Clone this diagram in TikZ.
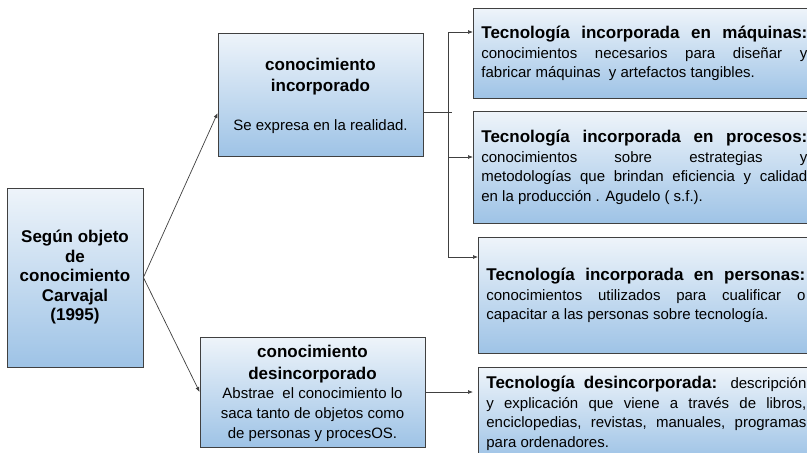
\documentclass[tikz,border=0pt]{standalone}
\usepackage{fontspec}
\setmainfont{Liberation Sans}
\usetikzlibrary{arrows.meta}
\definecolor{boxtop}{RGB}{238,244,250}
\definecolor{boxbot}{RGB}{158,195,230}
\definecolor{edge}{RGB}{64,64,64}
\begin{document}
\begin{tikzpicture}[x=1pt,y=-1pt,
  box/.style={draw=edge,line width=0.8pt,top color=boxtop,bottom color=boxbot,inner sep=0pt},
  techbox/.style={box,anchor=north west,minimum height=#1,text width=326pt,inner xsep=8pt,align=justify,txt},
  ttl/.style={font=\fontsize{17}{21}\selectfont\bfseries},
  txt/.style={font=\fontsize{15}{19.5}\selectfont},
  line/.style={draw=edge,line width=0.7pt},
  arr/.style={line,-{Latex[length=5pt,width=4pt]}}]
\useasboundingbox (0,0) rectangle (807,453);
\fill[white] (0,0) rectangle (807,453);
\clip (0,0) rectangle (807,453);
% left column
\node[box,minimum width=136pt,minimum height=179pt] (obj) at (75,277.5) {};
\node[ttl,font=\fontsize{17}{19.5}\selectfont\bfseries,align=center] (obj-t) at (obj) {Según objeto\\de\\conocimiento\\Carvajal\\(1995)};
% middle column
\node[box,minimum width=205pt,minimum height=123pt] (inc) at (320.5,94.5) {};
\node[ttl,align=center] (inc-t) at (320.5,77) {conocimiento\\incorporado};
\node[txt] (inc-b) at (320.5,127) {Se expresa en la realidad.};
\node[box,minimum width=225pt,minimum height=110pt] (des) at (312.5,392) {};
\node[ttl,font=\fontsize{17}{22}\selectfont\bfseries,align=center] (des-t) at (312.5,364) {conocimiento\\desincorporado};
\node[txt,font=\fontsize{15}{20}\selectfont,align=center] (des-b) at (312.5,415) {Abstrae\ \ el conocimiento lo\\saca tanto de objetos como\\de personas y procesOS.};
% right column
\node[techbox=90pt] (maq) at (473,8) {{\fontsize{17}{19.5}\selectfont\bfseries Tecnología incorporada en máquinas:}\linebreak
  conocimientos necesarios para diseñar y\linebreak fabricar máquinas\ \ y artefactos tangibles.};
\node[techbox=112pt] (pro) at (473,111) {{\fontsize{17}{19.5}\selectfont\bfseries Tecnología incorporada en procesos:}\linebreak
  conocimientos sobre estrategias y\linebreak metodologías que brindan eficiencia y calidad\linebreak en la producción . Agudelo ( s.f.).};
\node[techbox=116pt,text width=319pt] (per) at (478,237) {{\fontsize{17}{19.5}\selectfont\bfseries Tecnología incorporada en personas:}\linebreak
  conocimientos utilizados para cualificar o\linebreak capacitar a las personas sobre tecnología.};
\node[techbox=92pt,text width=320pt] (tdes) at (478,367) {{\fontsize{17}{19.5}\selectfont\bfseries Tecnología desincorporada:} descripción\linebreak
  y explicación que viene a través de libros,\linebreak enciclopedias, revistas, manuales, programas\linebreak para ordenadores.};
% connectors
\coordinate (bt) at (448,32);
\coordinate (bp) at (448,157);
\coordinate (bb) at (448,257);
\coordinate (bj) at (452,112);
\draw[arr] (obj.east) -- ([yshift=-18.5pt]inc.west);
\draw[arr] (obj.east) -- (des.west);
\draw[line] ([yshift=-17.5pt]inc.east) -- (bj);
\draw[line] (bt) -- (bb);
\draw[arr] (bt) -- (bt -| maq.west);
\draw[arr] (bp) -- (bp -| pro.west);
\draw[arr] (bb) -- (bb -| per.west);
\draw[arr,shorten >=5pt] (des.east) -- (des.east -| tdes.west);
\end{tikzpicture}
\end{document}
